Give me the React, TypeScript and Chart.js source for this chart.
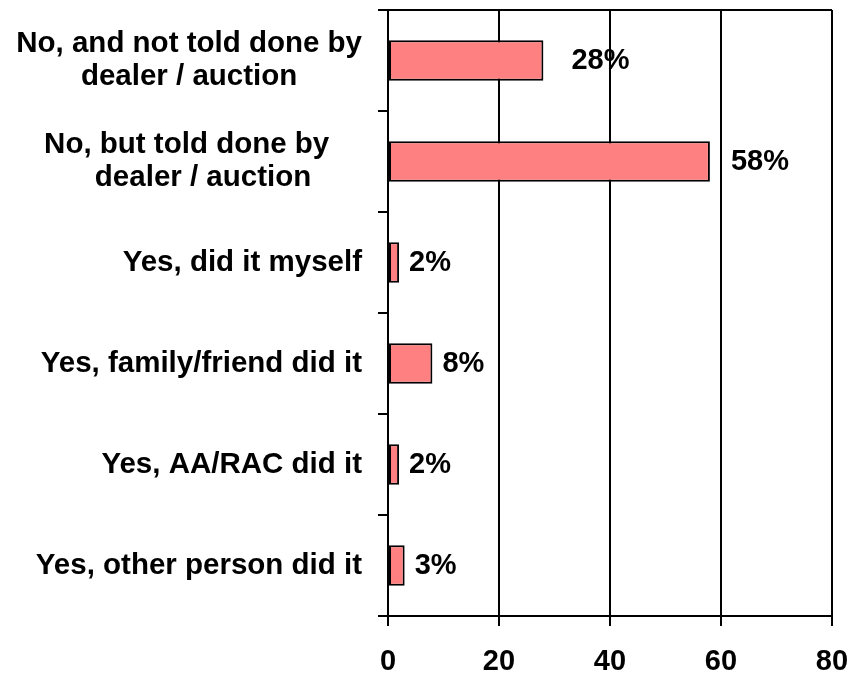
import React, { useEffect, useRef } from "react";
import { Chart, registerables } from "chart.js";

Chart.register(...registerables);

const categories: string[][] = [
  ["No, and not told done by", "dealer / auction"],
  ["No, but told done by    ", "dealer / auction"],
  ["Yes, did it myself"],
  ["Yes, family/friend did it"],
  ["Yes, AA/RAC did it"],
  ["Yes, other person did it"],
];
const values: number[] = [28, 58, 2, 8, 2, 3];
const xTicks: number[] = [0, 20, 40, 60, 80];
const labelNudge: number[] = [18, 11, 0, 0, 0, 0];

const FONT_FAMILY = '"Liberation Sans", Arial, Helvetica, sans-serif';
const CAT_FONT = 29.5;
const VAL_FONT = 29;
const TICK_FONT = 29;
const LABEL_RIGHT = 362;
const LINE_H = 33.5;

const overlayPlugin = {
  id: "overlay",
  afterDraw(chart: any) {
    const ctx = chart.ctx as CanvasRenderingContext2D;
    const area = chart.chartArea;
    const y = chart.scales.y;
    const x = chart.scales.x;
    ctx.save();
    // top border
    ctx.strokeStyle = "#000";
    ctx.lineWidth = 2;
    ctx.beginPath();
    ctx.moveTo(area.left, area.top);
    ctx.lineTo(area.right, area.top);
    ctx.stroke();

    ctx.fillStyle = "#000";
    ctx.font = `bold ${CAT_FONT}px ${FONT_FAMILY}`;
    ctx.textBaseline = "middle";
    // category labels
    categories.forEach((lines, i) => {
      const cy = y.getPixelForValue(i);
      const maxW = Math.max(...lines.map((l) => ctx.measureText(l).width));
      const cx = LABEL_RIGHT - maxW / 2;
      ctx.textAlign = "center";
      const n = lines.length;
      lines.forEach((l, j) => {
        const ly = cy + (j - (n - 1) / 2) * LINE_H;
        ctx.fillText(l, cx, ly);
      });
    });
    // value labels
    ctx.font = `bold ${VAL_FONT}px ${FONT_FAMILY}`;
    ctx.textAlign = "left";
    values.forEach((v, i) => {
      const px = x.getPixelForValue(v) + 10 + labelNudge[i];
      const py = y.getPixelForValue(i);
      ctx.fillText(`${v}%`, px, py);
    });
    ctx.restore();
  },
};

export default function App() {
  const ref = useRef<HTMLCanvasElement | null>(null);
  useEffect(() => {
    if (!ref.current) return;
    const chart = new Chart(ref.current, {
      type: "bar",
      data: {
        labels: categories.map((c) => c.join(" ")),
        datasets: [
          {
            data: values,
            backgroundColor: "#FF8080",
            borderColor: "#000000",
            borderWidth: 2,
            borderSkipped: false,
            barPercentage: 0.5,
            categoryPercentage: 0.8,
          },
        ],
      },
      options: {
        indexAxis: "y",
        animation: false,
        responsive: false,
        maintainAspectRatio: false,
        layout: { padding: { top: 10, right: 0, left: 0, bottom: 0 } },
        plugins: {
          legend: { display: false },
          tooltip: { enabled: false },
          title: { display: false },
        },
        scales: {
          x: {
            type: "linear",
            min: 0,
            max: 80,
            afterBuildTicks: (axis: any) => {
              axis.ticks = xTicks.map((v) => ({ value: v }));
            },
            afterFit: (axis: any) => {
              axis.height = 58;
              axis.paddingRight = 21;
              axis.paddingLeft = 0;
            },
            grid: {
              color: "#000",
              lineWidth: 2,
              drawTicks: true,
              tickLength: 10,
              tickColor: "#000",
            },
            border: { display: true, color: "#000", width: 2 },
            ticks: {
              color: "#000",
              padding: 19,
              maxRotation: 0,
              font: { family: FONT_FAMILY, size: TICK_FONT, weight: "bold" },
            },
          },
          y: {
            type: "category",
            offset: true,
            afterFit: (axis: any) => {
              axis.width = 388;
            },
            grid: {
              offset: true,
              drawOnChartArea: false,
              drawTicks: true,
              tickLength: 10,
              color: "#000",
              lineWidth: 2,
            },
            border: { display: true, color: "#000", width: 2 },
            ticks: { display: false },
          },
        },
      },
      plugins: [overlayPlugin],
    });
    return () => chart.destroy();
  }, []);
  return (
    <div style={{ position: "fixed", left: 0, top: 0, width: 853, height: 674, background: "#fff" }}>
      <canvas ref={ref} width={853} height={674} style={{ display: "block" }} />
    </div>
  );
}
